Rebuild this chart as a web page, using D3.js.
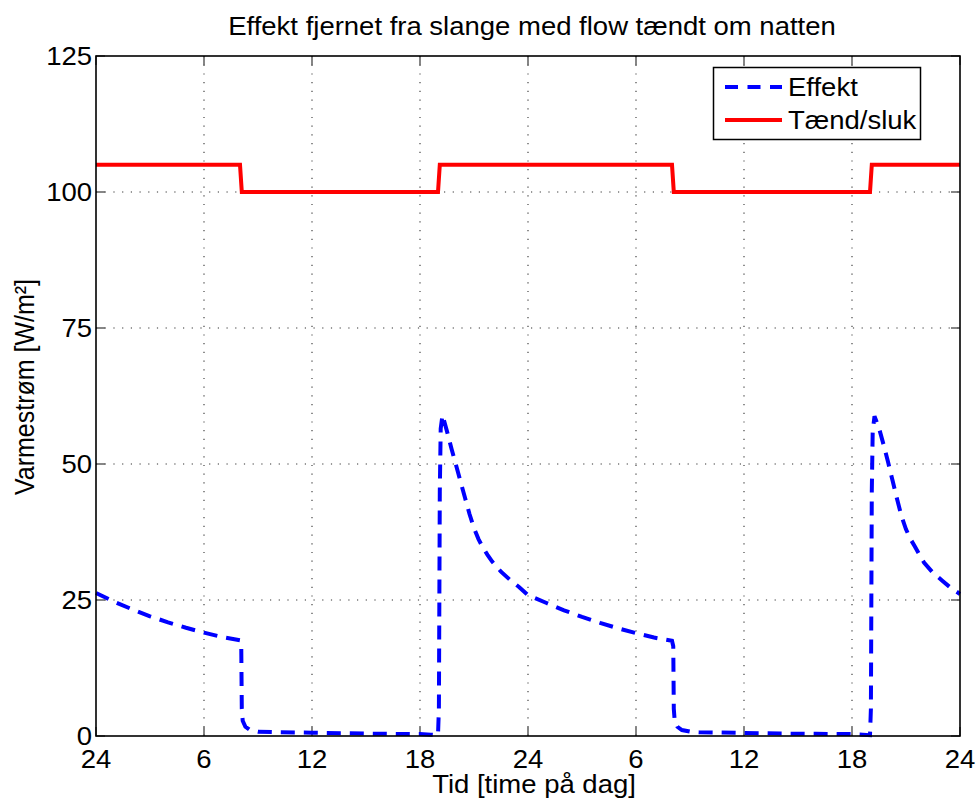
<!DOCTYPE html>
<html>
<head>
<meta charset="utf-8">
<script src="https://cdn.jsdelivr.net/npm/d3@7"></script>
<style>
  html, body { margin: 0; padding: 0; background: #fff; }
  svg { display: block; }
  text { font-family: "Liberation Sans", Arial, Helvetica, sans-serif; fill: #000; }
</style>
</head>
<body>
<svg id="chart" width="977" height="801"></svg>
<script>
// ---- Data ----
const title = "Effekt fjernet fra slange med flow tændt om natten";
const xLabel = "Tid [time på dag]";
const yLabel = "Varmestrøm [W/m²]";
const xTicks = [0, 6, 12, 18, 24, 30, 36, 42, 48];
const xTickLabels = ["24", "6", "12", "18", "24", "6", "12", "18", "24"];
const yTicks = [0, 25, 50, 75, 100, 125];
const seriesNames = ["Effekt", "Tænd/sluk"];

// Effekt (heat flow removed), hours 0..48
const effektTime = [
  0, 1, 2, 3, 4, 5, 6, 7, 8.0, 8.07, 8.1, 8.15, 8.3, 8.55, 9.0, 10, 12, 14, 16, 18, 18.6, 19.0,
  19.05, 19.1, 19.15, 19.25, 19.5, 19.75, 20.0, 20.25, 20.5, 20.75, 21.0, 21.25, 21.5, 21.75,
  22.0, 22.5, 23.0, 23.5, 24.0, 25, 26, 27, 28, 29, 30, 31, 32.0, 32.07, 32.1, 32.15, 32.3,
  32.55, 33.0, 33.5, 36, 38, 40, 42, 42.6, 43.0, 43.05, 43.1, 43.15, 43.25, 43.5, 43.75, 44.0,
  44.25, 44.5, 44.75, 45.0, 45.25, 45.5, 45.75, 46.0, 46.5, 47.0, 47.5, 48.0
];
const effektValues = [
  26.3, 24.7, 23.3, 22.0, 20.9, 19.9, 19.0, 18.2, 17.6, 16.5, 5.0, 2.8, 1.7, 1.1, 0.8, 0.7, 0.6, 0.5, 0.4, 0.35, 0.25, 0.15,
  5.0, 45.0, 56.5, 59.0, 56.0, 52.8, 49.8, 46.8, 43.8, 40.8, 38.2, 36.2, 34.6, 33.3,
  32.1, 30.2, 28.7, 27.4, 25.9, 24.5, 23.1, 21.9, 20.8, 19.8, 18.9, 18.1, 17.5, 16.5, 5.0, 2.8, 1.7,
  1.1, 0.8, 0.7, 0.55, 0.45, 0.4, 0.35, 0.25, 0.15, 5.0, 45.0, 56.0, 58.8, 56.6, 53.6, 50.4,
  47.0, 43.6, 40.4, 38.0, 36.2, 34.8, 33.3, 31.9, 30.0, 28.6, 27.2, 26.1
];

// Tænd/sluk (on/off indicator)
const switchTime = [0, 8.0, 8.1, 19.0, 19.1, 32.0, 32.1, 43.0, 43.1, 48];
const switchValues = [105, 105, 100, 100, 105, 105, 100, 100, 105, 105];

// ---- Layout ----
const svg = d3.select("#chart");
const margin = { left: 96, right: 17, top: 56, bottom: 65 };
const W = 977, H = 801;
const x = d3.scaleLinear().domain([0, 48]).range([margin.left, W - margin.right]);
const y = d3.scaleLinear().domain([0, 125]).range([H - margin.bottom, margin.top]);
const x0 = x.range()[0], x1 = x.range()[1], y0 = y.range()[0], y1 = y.range()[1];
const FS = 25, SX = 1.1;

function hText(sel, tx, ty, str, anchor) {
  return sel.append("text")
    .attr("transform", `translate(${tx},${ty}) scale(${SX},1)`)
    .attr("text-anchor", anchor || "middle")
    .attr("font-size", FS)
    .text(str);
}

// grid
const grid = svg.append("g");
grid.selectAll("line.vx").data(xTicks.slice(1, -1)).join("line")
  .attr("x1", d => x(d)).attr("x2", d => x(d)).attr("y1", y1).attr("y2", y0)
  .attr("stroke", "#333").attr("stroke-width", 1.1).attr("stroke-dasharray", "1.2,7.5");
grid.selectAll("line.hy").data(yTicks.slice(1, -1)).join("line")
  .attr("x1", x0).attr("x2", x1).attr("y1", d => y(d)).attr("y2", d => y(d))
  .attr("stroke", "#333").attr("stroke-width", 1.1).attr("stroke-dasharray", "1.2,7.5");

// ticks (inward on all sides)
const TL = 9;
const ticks = svg.append("g").attr("stroke", "#444").attr("stroke-width", 1.3);
xTicks.forEach(t => {
  ticks.append("line").attr("x1", x(t)).attr("x2", x(t)).attr("y1", y0).attr("y2", y0 - TL);
  ticks.append("line").attr("x1", x(t)).attr("x2", x(t)).attr("y1", y1).attr("y2", y1 + TL);
});
yTicks.forEach(t => {
  ticks.append("line").attr("x1", x0).attr("x2", x0 + TL).attr("y1", y(t)).attr("y2", y(t));
  ticks.append("line").attr("x1", x1).attr("x2", x1 - TL).attr("y1", y(t)).attr("y2", y(t));
});

// data lines
const effektData = effektTime.map((t, i) => [t, effektValues[i]]);
const switchData = switchTime.map((t, i) => [t, switchValues[i]]);
const line = d3.line().x(d => x(d[0])).y(d => y(d[1]));
svg.append("path").datum(effektData).attr("d", line)
  .attr("fill", "none").attr("stroke", "#0000ff").attr("stroke-width", 4)
  .attr("stroke-dasharray", "14,9");
svg.append("path").datum(switchData).attr("d", line)
  .attr("fill", "none").attr("stroke", "#ff0000").attr("stroke-width", 4)
  .attr("stroke-linejoin", "miter");

// frame
svg.append("rect").attr("x", x0).attr("y", y1).attr("width", x1 - x0).attr("height", y0 - y1)
  .attr("fill", "none").attr("stroke", "#000").attr("stroke-width", 1.6);

// tick labels
const tl = svg.append("g");
xTicks.forEach((t, i) => hText(tl, x(t), 768, xTickLabels[i], "middle"));
yTicks.forEach(t => hText(tl, x0 - 4, y(t) + 9, String(t), "end"));

// title & axis labels
hText(svg, (x0 + x1) / 2 + 4, 35, title, "middle");
hText(svg, (x0 + x1) / 2 + 6, 793, xLabel, "middle");
svg.append("text")
  .attr("transform", `translate(34,${(y0 + y1) / 2 - 9}) scale(${SX},1) rotate(-90)`)
  .attr("text-anchor", "middle").attr("font-size", FS).text(yLabel);

// legend
const lg = svg.append("g");
lg.append("rect").attr("x", 713.5).attr("y", 67.5).attr("width", 207).attr("height", 72)
  .attr("fill", "#fff").attr("stroke", "#000").attr("stroke-width", 1.5);
const legendRows = [
  { name: seriesNames[0], color: "#0000ff", dash: "13,9.5", yy: 87 },
  { name: seriesNames[1], color: "#ff0000", dash: null, yy: 120 }
];
legendRows.forEach(r => {
  const l = lg.append("line").attr("x1", 725).attr("x2", 782).attr("y1", r.yy).attr("y2", r.yy)
    .attr("stroke", r.color).attr("stroke-width", 4);
  if (r.dash) l.attr("stroke-dasharray", r.dash);
  hText(lg, 788, r.yy + 9, r.name, "start");
});
</script>
</body>
</html>
